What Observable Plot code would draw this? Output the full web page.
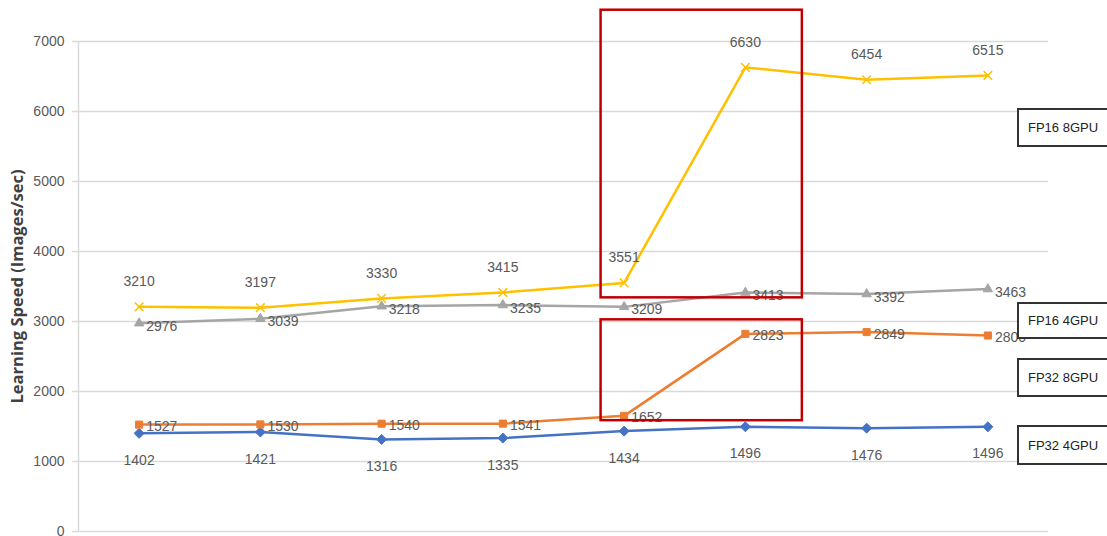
<!DOCTYPE html>
<html>
<head>
<meta charset="utf-8">
<script src="https://cdn.jsdelivr.net/npm/d3@7"></script>
<script src="https://cdn.jsdelivr.net/npm/@observablehq/plot@0.6"></script>
<style>
  html, body { margin: 0; padding: 0; background: #fff; }
  #wrap { position: relative; width: 1107px; height: 536px; overflow: hidden; }
  #wrap svg [aria-label="y-axis label"] text { font-weight: bold; font-family: "Open Sans", "Liberation Sans", sans-serif; font-size: 16.5px; fill: #404040; }
  .lg { position: absolute; left: 1017px; width: 110px; box-sizing: border-box;
        border: 2px solid #333; background: #fff; font-family: "Liberation Sans", Arial, sans-serif;
        font-size: 13px; color: #222; padding-left: 9px; display: flex; align-items: center; }
</style>
</head>
<body>
<div id="wrap"></div>
<script>
// ---- data ----
const xIndex = [0, 1, 2, 3, 4, 5, 6, 7];
const fp32_4gpu = [1402, 1421, 1316, 1335, 1434, 1496, 1476, 1496];
const fp32_8gpu = [1527, 1530, 1540, 1541, 1652, 2823, 2849, 2800];
const fp16_4gpu = [2976, 3039, 3218, 3235, 3209, 3413, 3392, 3463];
const fp16_8gpu = [3210, 3197, 3330, 3415, 3551, 6630, 6454, 6515];
const seriesNames = ["FP32 4GPU", "FP32 8GPU", "FP16 4GPU", "FP16 8GPU"];
const seriesColors = ["#4472C4", "#ED7D31", "#A5A5A5", "#FFC000"];
const seriesSymbols = ["diamond2", "square2", "triangle2", "times"];
const yTicks = [0, 1000, 2000, 3000, 4000, 5000, 6000, 7000];
const yLabel = "Learning Speed (Images/sec)";
// highlight boxes, in data units (x index, y value)
const highlightX1 = [3.81, 3.81];
const highlightX2 = [5.47, 5.47];
const highlightY1 = [3338, 1583];
const highlightY2 = [7447, 3024];
// text boxes on the right
const legendOrder = ["FP16 8GPU", "FP16 4GPU", "FP32 8GPU", "FP32 4GPU"];
const legendTop = [108, 302, 358, 425];
const legendHeight = [39, 37, 39, 40];

// ---- build tables ----
const valuesBySeries = [fp32_4gpu, fp32_8gpu, fp16_4gpu, fp16_8gpu];
const rows = [];
seriesNames.forEach((s, si) => xIndex.forEach((x, i) => rows.push({series: s, x, y: valuesBySeries[si][i]})));
const highlights = highlightX1.map((_, i) => ({x1: highlightX1[i], x2: highlightX2[i], y1: highlightY1[i], y2: highlightY2[i]}));

const labelFont = `"Liberation Sans", Arial, sans-serif`;
const of = (s) => rows.filter(d => d.series === s);

const marks = [
  Plot.gridY({ticks: yTicks, stroke: "#d9d9d9", strokeOpacity: 1, strokeWidth: 1.5}),
  Plot.axisY({ticks: yTicks, tickFormat: d3.format("d"), tickSize: 6, tickPadding: 8, stroke: "#d9d9d9", strokeWidth: 1.5, fill: "#595959",
              fontSize: 14, fontFamily: labelFont, label: yLabel, labelAnchor: "center", labelArrow: "none", labelOffset: 67}),
  Plot.ruleX([-0.5], {stroke: "#d9d9d9", strokeWidth: 1.5}),
];
seriesNames.forEach((s, si) => {
  marks.push(Plot.line(of(s), {x: "x", y: "y", stroke: seriesColors[si], strokeWidth: 2.5}));
  marks.push(Plot.dot(of(s), {x: "x", y: "y", symbol: seriesSymbols[si], fill: seriesColors[si], stroke: seriesColors[si],
                             r: seriesSymbols[si] === "times" ? 4 : 4.5, strokeWidth: seriesSymbols[si] === "times" ? 1.5 : 1}));
});
const labelOpts = {x: "x", y: "y", text: d => String(d.y), fill: "#595959", fontSize: 14, fontFamily: labelFont};
marks.push(Plot.text(of("FP32 4GPU"), {...labelOpts, dy: 27}));
marks.push(Plot.text(of("FP32 8GPU"), {...labelOpts, dx: 7, dy: 2, textAnchor: "start"}));
marks.push(Plot.text(of("FP16 4GPU"), {...labelOpts, dx: 7, dy: 3, textAnchor: "start"}));
marks.push(Plot.text(of("FP16 8GPU"), {...labelOpts, dy: -25}));
marks.push(Plot.rect(highlights, {x1: "x1", x2: "x2", y1: "y1", y2: "y2", fill: "none", stroke: "#C00000", strokeWidth: 2.5}));

const chart = Plot.plot({
  width: 1107, height: 536,
  marginLeft: 78, marginRight: 59, marginTop: 41, marginBottom: 5,
  style: {background: "#fff", overflow: "visible"},
  x: {type: "linear", domain: [-0.5, 7.5], axis: null},
  y: {domain: [0, 7000], axis: null},
  marks
});
const wrap = document.getElementById("wrap");
wrap.appendChild(chart);
legendOrder.forEach((name, i) => {
  const d = document.createElement("div");
  d.className = "lg";
  d.style.top = legendTop[i] + "px";
  d.style.height = legendHeight[i] + "px";
  d.textContent = name;
  wrap.appendChild(d);
});
</script>
</body>
</html>
